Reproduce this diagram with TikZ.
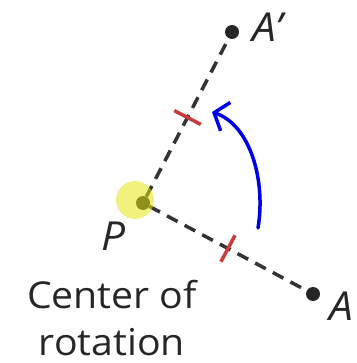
\documentclass[tikz,border=0pt]{standalone}
\usepackage{fontspec}
\setmainfont{Open Sans}[FakeStretch=1.06]
\usepackage{tikz}
\usetikzlibrary{arrows.meta,positioning}
\definecolor{tickred}{RGB}{200,60,60}
\definecolor{penblue}{RGB}{0,0,230}
\definecolor{glowyellow}{RGB}{230,230,20}
\tikzset{
  dot/.style={circle,fill=black!85,minimum size=14pt,inner sep=0pt},
  rayline/.style={draw=black!80,line width=3.5pt,dash pattern=on 12pt off 8pt},
  tickmark/.style={sloped,rectangle,fill=tickred,minimum width=3.5pt,
    minimum height=30pt,inner sep=0pt},
  turnarrow/.style={draw=penblue,line width=3.5pt,line cap=round,
    -{Straight Barb[length=12pt,width=30pt,line width=3.5pt]}},
  ptlabel/.style={font=\fontsize{40}{42}\selectfont\itshape,inner sep=0pt,text=black!85},
  caption/.style={font=\fontsize{37}{47}\selectfont,align=center,inner sep=0pt,text=black!85},
  glow/.style={fill=glowyellow,fill opacity=0.55}
}
\begin{document}
\begin{tikzpicture}[x=1pt,y=-1pt]
  \useasboundingbox (0,0) rectangle (356,363);
  % points
  \node[dot] (P) at (143,203) {};
  \node[dot] (Aprime) at (232,32) {};
  \node[dot] (A) at (313,294) {};
  % rays with equal-length marks
  \draw[rayline] (P) -- node[tickmark] {} (Aprime);
  \draw[rayline] (P) -- node[tickmark] {} (A);
  % highlight on the center
  \fill[glow] (135,200) circle (19);
  % labels
  \node[ptlabel,anchor=base west] (Aprimelabel) at (252,42) {A'};
  \node[ptlabel,anchor=base west] (Alabel) at (329,320) {A};
  \node[ptlabel,anchor=base] (Plabel) at (113,250) {P};
  \node[caption] (center) at (112,318) {Center of\\rotation};
  % hand-drawn turn
  \coordinate (arcstart) at (258,228);
  \coordinate (arcend) at (212,112);
  \draw[turnarrow] (arcstart) .. controls (266,180) and (250,125) .. (arcend);
\end{tikzpicture}
\end{document}
